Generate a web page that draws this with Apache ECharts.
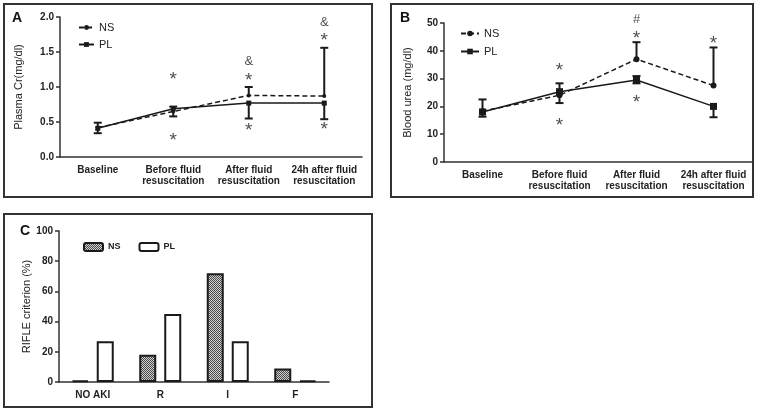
<!DOCTYPE html>
<html><head><meta charset="utf-8">
<script src="https://cdn.jsdelivr.net/npm/echarts@6/dist/echarts.min.js"></script>
<style>html,body{margin:0;padding:0;background:#fff}#c{width:764px;height:410px}</style>
</head><body><div id="c"></div>
<script>
// ---- data ----
const catsAB = ['Baseline', 'Before fluid\nresuscitation', 'After fluid\nresuscitation', '24h after fluid\nresuscitation'];
const catsC = ['NO AKI', 'R', 'I', 'F'];

// Panel A: Plasma Cr (mg/dl)
const nsA = [0.42, 0.65, 0.88, 0.87];
const plA = [0.41, 0.69, 0.77, 0.77];
const nsAHi = [0.49, null, 1.00, 1.56];
const nsALo = [null, 0.58, null, null];
const plAHi = [null, 0.72, null, null];
const plALo = [0.34, null, 0.55, 0.54];
const annA = [[1, 1.17, '*'], [1, 0.30, '*'], [2, 1.37, '&'], [2, 1.15, '*'], [2, 0.44, '*'], [3, 1.92, '&'], [3, 1.72, '*'], [3, 0.45, '*']];

// Panel B: Blood urea (mg/dl)
const nsB = [18.3, 24, 37, 27.5];
const plB = [18, 25.3, 29.5, 20];
const nsBHi = [22.5, null, 43.1, 41.2];
const nsBLo = [null, 21.2, null, null];
const plBHi = [null, 28.3, 30.9, null];
const plBLo = [16.3, null, 28.3, 16.1];
const annB = [[1, 34.5, '*'], [1, 14.5, '*'], [2, 51.4, '#'], [2, 46, '*'], [2, 23, '*'], [3, 44, '*']];

// Panel C: RIFLE criterion (%)
const nsC = [1, 18, 72, 9];
const plC = [27, 45, 27, 1];

// ---- chart ----
const ink = '#1a1a1a';
const pat = document.createElement('canvas');
pat.width = 2; pat.height = 2;
(function () {
  const g = pat.getContext('2d');
  g.fillStyle = '#d0d0d0'; g.fillRect(0, 0, 2, 2);
  g.fillStyle = '#4a4a4a'; g.fillRect(0, 0, 1, 1); g.fillRect(1, 1, 1, 1);
})();

function errData(mean, ends) {
  const out = [];
  ends.forEach((e, i) => { if (e !== null) out.push([i, mean[i], e]); });
  return out;
}
function errRender(params, api) {
  const p0 = api.coord([api.value(0), api.value(1)]);
  const p1 = api.coord([api.value(0), api.value(2)]);
  const st = { stroke: ink, lineWidth: 2 };
  return { type: 'group', children: [
    { type: 'line', shape: { x1: p0[0], y1: p0[1], x2: p1[0], y2: p1[1] }, style: st },
    { type: 'line', shape: { x1: p1[0] - 4, y1: p1[1], x2: p1[0] + 4, y2: p1[1] }, style: st }
  ] };
}
function errSeries(idx, mean, ends) {
  return { type: 'custom', xAxisIndex: idx, yAxisIndex: idx, renderItem: errRender, data: errData(mean, ends), z: 3, silent: true };
}
function annSeries(idx, arr) {
  return { type: 'scatter', xAxisIndex: idx, yAxisIndex: idx, symbolSize: 0, clip: false, silent: true,
    data: arr,
    label: { show: true, position: 'inside', color: '#222', fontFamily: 'Liberation Sans',
      formatter: p => (p.data[2] === '*' ? '{s|*}' : '{o|' + p.data[2] + '}'),
      rich: { s: { fontSize: 19, color: '#222', padding: [9, 0, 0, 0] }, o: { fontSize: 13, color: '#222' } } } };
}
const axisLine = { lineStyle: { color: '#333', width: 1.5 } };
const axisTick = { lineStyle: { color: '#333', width: 1.5 }, length: 4 };
const tickLbl = { fontSize: 10, fontWeight: 'bold', color: '#222', fontFamily: 'Liberation Sans' };

const chart = echarts.init(document.getElementById('c'), null, { renderer: 'canvas' });
chart.setOption({
  animation: false,
  textStyle: { fontFamily: 'Liberation Sans' },
  grid: [
    { left: 60, top: 17, width: 302, height: 140 },
    { left: 444, top: 23, width: 308, height: 139 },
    { left: 59, top: 231, width: 270, height: 151 }
  ],
  xAxis: [
    { type: 'category', gridIndex: 0, data: catsAB, axisLine, axisTick: { show: false }, axisLabel: Object.assign({ margin: 8, lineHeight: 11, interval: 0 }, tickLbl) },
    { type: 'category', gridIndex: 1, data: catsAB, axisLine, axisTick: { show: false }, axisLabel: Object.assign({ margin: 8, lineHeight: 11, interval: 0 }, tickLbl) },
    { type: 'category', gridIndex: 2, data: catsC, axisLine, axisTick: { show: false }, axisLabel: Object.assign({ margin: 8, interval: 0 }, tickLbl) }
  ],
  yAxis: [
    { type: 'value', gridIndex: 0, min: 0, max: 2, interval: 0.5, axisLine: Object.assign({ show: true }, axisLine), axisTick: Object.assign({ show: true }, axisTick), splitLine: { show: false },
      axisLabel: Object.assign({ formatter: v => v.toFixed(1), margin: 6 }, tickLbl),
      name: 'Plasma Cr(mg/dl)', nameLocation: 'middle', nameGap: 36, nameTextStyle: { fontSize: 11, color: '#222' } },
    { type: 'value', gridIndex: 1, min: 0, max: 50, interval: 10, axisLine: Object.assign({ show: true }, axisLine), axisTick: Object.assign({ show: true }, axisTick), splitLine: { show: false },
      axisLabel: Object.assign({ margin: 6 }, tickLbl),
      name: 'Blood urea (mg/dl)', nameLocation: 'middle', nameGap: 31, nameTextStyle: { fontSize: 11, color: '#222' } },
    { type: 'value', gridIndex: 2, min: 0, max: 100, interval: 20, axisLine: Object.assign({ show: true }, axisLine), axisTick: Object.assign({ show: true }, axisTick), splitLine: { show: false },
      axisLabel: Object.assign({ margin: 6 }, tickLbl),
      name: 'RIFLE criterion (%)', nameLocation: 'middle', nameGap: 27, nameTextStyle: { fontSize: 11, color: '#222' } }
  ],
  legend: [
    { data: ['A_NS', 'A_PL'], orient: 'vertical', left: 73, top: 17, itemWidth: 15, itemHeight: 6, itemGap: 6,
      formatter: n => n.split('_')[1], textStyle: { fontSize: 11, color: '#222' } },
    { data: ['B_NS', 'B_PL'], orient: 'vertical', left: 455, top: 23, itemWidth: 18, itemHeight: 7, itemGap: 7,
      formatter: n => n.split('_')[1], textStyle: { fontSize: 11, color: '#222' } },
    { data: ['C_NS', 'C_PL'], orient: 'horizontal', left: 78, top: 237, itemWidth: 19, itemHeight: 8, itemGap: 18,
      formatter: n => n.split('_')[1], textStyle: { fontSize: 9, fontWeight: 'bold', color: '#222' } }
  ],
  series: [
    errSeries(0, nsA, nsAHi), errSeries(0, nsA, nsALo), errSeries(0, plA, plAHi), errSeries(0, plA, plALo),
    { name: 'A_NS', type: 'line', xAxisIndex: 0, yAxisIndex: 0, data: nsA, symbol: 'circle', symbolSize: 4,
      lineStyle: { color: ink, width: 1.5, type: [5, 3] }, itemStyle: { color: ink }, z: 4 },
    { name: 'A_PL', type: 'line', xAxisIndex: 0, yAxisIndex: 0, data: plA, symbol: 'rect', symbolSize: 5,
      lineStyle: { color: ink, width: 1.5 }, itemStyle: { color: ink }, z: 4 },
    annSeries(0, annA),
    errSeries(1, nsB, nsBHi), errSeries(1, nsB, nsBLo), errSeries(1, plB, plBHi), errSeries(1, plB, plBLo),
    { name: 'B_NS', type: 'line', xAxisIndex: 1, yAxisIndex: 1, data: nsB, symbol: 'circle', symbolSize: 6,
      lineStyle: { color: ink, width: 1.5, type: [5, 3] }, itemStyle: { color: ink }, z: 4 },
    { name: 'B_PL', type: 'line', xAxisIndex: 1, yAxisIndex: 1, data: plB, symbol: 'rect', symbolSize: 7,
      lineStyle: { color: ink, width: 1.5 }, itemStyle: { color: ink }, z: 4 },
    annSeries(1, annB),
    { name: 'C_NS', type: 'bar', xAxisIndex: 2, yAxisIndex: 2, data: nsC, barWidth: 17, barGap: '47%',
      itemStyle: { color: { image: pat, repeat: 'repeat' }, borderColor: ink, borderWidth: 2 } },
    { name: 'C_PL', type: 'bar', xAxisIndex: 2, yAxisIndex: 2, data: plC, barWidth: 17, barGap: '47%',
      itemStyle: { color: '#fff', borderColor: ink, borderWidth: 2 } }
  ],
  graphic: [
    { type: 'rect', shape: { x: 4, y: 4, width: 368, height: 193 }, style: { fill: 'none', stroke: '#333', lineWidth: 2 }, silent: true },
    { type: 'rect', shape: { x: 391, y: 4, width: 362, height: 193 }, style: { fill: 'none', stroke: '#333', lineWidth: 2 }, silent: true },
    { type: 'rect', shape: { x: 4, y: 214, width: 368, height: 193 }, style: { fill: 'none', stroke: '#333', lineWidth: 2 }, silent: true },
    { type: 'text', left: 12, top: 11, style: { text: 'A', font: 'bold 14px "Liberation Sans"', fill: '#111' } },
    { type: 'text', left: 400, top: 11, style: { text: 'B', font: 'bold 14px "Liberation Sans"', fill: '#111' } },
    { type: 'text', left: 20, top: 224, style: { text: 'C', font: 'bold 14px "Liberation Sans"', fill: '#111' } }
  ]
});
</script></body></html>
